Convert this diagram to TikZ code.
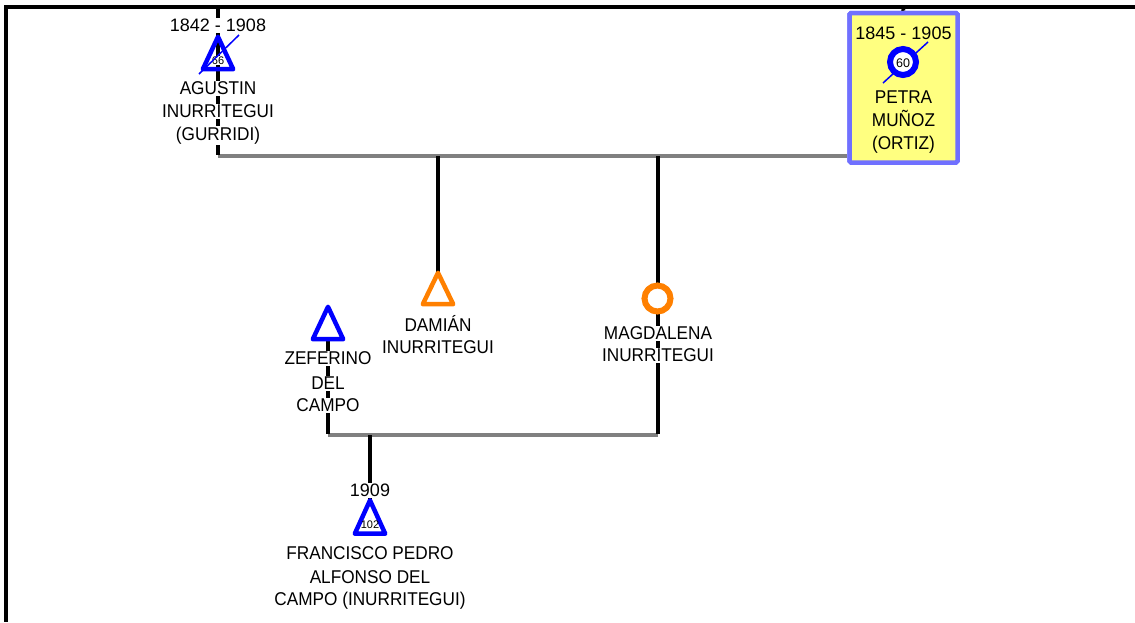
\documentclass[tikz,border=0pt]{standalone}
\usepackage{fontspec}
\setmainfont{Liberation Sans}
\newfontfamily\namefont[FakeStretch=0.93]{Liberation Sans}
\definecolor{tblue}{RGB}{0,0,255}
\definecolor{bxblue}{RGB}{112,112,255}
\definecolor{bxyel}{RGB}{255,255,128}
\definecolor{orng}{RGB}{255,128,0}
\definecolor{lgray}{RGB}{128,128,128}
\begin{document}
\begin{tikzpicture}[x=1pt,y=-1pt,
 txt/.style={fill=white,inner xsep=1pt,inner ysep=1pt,font=\namefont\fontsize{18.5}{20}\selectfont,anchor=base},
 txtb/.style={txt,fill=none},
 yr/.style={txt,font=\fontsize{18}{20}\selectfont},
 yrb/.style={yr,fill=none},
 num/.style={fill=white,inner sep=0.3pt,font=\fontsize{11}{12}\selectfont},
 numb/.style={num,fill=none},
 tribox/.style={minimum width=30pt,minimum height=32pt,inner sep=0pt},
 tri/.style={line width=4.5pt,line join=round},
 circ/.style={circle,minimum size=26pt,inner sep=0pt,line width=6pt,fill=white},
 kin/.style={line width=4pt,black},
 mar/.style={line width=4pt,lgray},
 diag/.style={line width=1.5pt,tblue},
]
\useasboundingbox (0,0) rectangle (1135,622);
% frame
\coordinate (frTR) at (1135,7);
\coordinate (frTL) at (6,7);
\coordinate (frBL) at (6,622);
\draw[line width=4pt] (frTR) -- (frTL) -- (frBL);

% anchors
\coordinate (agTop) at (218,9);
\coordinate (peTop) at (903,9);
\coordinate (m1L) at (218,156);
\coordinate (m2L) at (328,435);
\coordinate (m2R) at (658,435);
\coordinate (m2C) at (370,435);

% Petra box (nodes first for names)
\node[draw=bxblue, fill=bxyel, line width=4.5pt, rounded corners=1.5pt, minimum width=108pt, minimum height=149.5pt, inner sep=0pt] (peBox) at (903.5,87.75) {};
% people shapes (boxes)
\node[tribox] (agT) at (218,53) {};
\node[tribox,minimum height=31pt] (damT) at (438,288.5) {};
\node[tribox] (zefT) at (328,323) {};
\node[tribox,minimum height=33pt] (frT) at (370,517) {};

% marriage lines
\draw[mar] (m1L) -- (peBox.west |- m1L);
\draw[mar] (m2L) -- (m2R);
% kinship lines
\draw[kin] (agTop) -- ([yshift=1pt]m1L);
\draw[kin] (peTop) -- (peBox.north);
\draw[kin] (m1L -| damT) -- (damT.north);
\draw[kin] (m1L -| m2R) -- ([yshift=1pt]m2R);
\draw[kin] (zefT.south) -- ([yshift=1pt]m2L);
\draw[kin] (m2C) -- (frT.north);

% Petra box redraw over line
\node[draw=bxblue, fill=bxyel, line width=4.5pt, rounded corners=1.5pt, minimum width=108pt, minimum height=149.5pt, inner sep=0pt] at (peBox) {};

% Agustin
\draw[tri,tblue] (agT.north) -- (agT.south east) -- (agT.south west) -- cycle;
\node[num] (agN) at (218,60.5) {66};
\draw[diag] (199,74) -- (239,35);
\node[yr] (agY) at (218,31.5) {1842 - 1908};
\node[txt] (ag1) at (218,94.5) {AGUSTIN};
\node[txt] (ag2) at (218,117.5) {INURRITEGUI};
\node[txt] (ag3) at (218,140.5) {(GURRIDI)};

% Petra
\draw[diag] (883,83) -- (928,42);
\node[circ,draw=tblue] (peC) at (903,62) {};
\node[numb,font=\fontsize{12.5}{13}\selectfont] (peN) at (903,63) {60};
\node[yrb] (peY) at (903.5,39.5) {1845 - 1905};
\node[txtb] (pe1) at (903.5,103.3) {PETRA};
\node[txtb] (pe2) at (903.5,126) {MUÑOZ};
\node[txtb] (pe3) at (903.5,149) {(ORTIZ)};

% Damian
\draw[tri,orng] (damT.north) -- (damT.south east) -- (damT.south west) -- cycle;
\node[txt] (da1) at (438,331.5) {DAMIÁN};
\node[txt] (da2) at (438,353.3) {INURRITEGUI};

% Magdalena
\node[circ,draw=orng] (magC) at (657.5,298.5) {};
\node[txt] (ma1) at (658,339.5) {MAGDALENA};
\node[txt] (ma2) at (658,361.7) {INURRITEGUI};

% Zeferino
\draw[tri,tblue] (zefT.north) -- (zefT.south east) -- (zefT.south west) -- cycle;
\node[txt] (ze1) at (328,364.5) {ZEFERINO};
\node[txt] (ze2) at (328,389.8) {DEL};
\node[txt] (ze3) at (328,411.5) {CAMPO};

% Francisco
\draw[tri,tblue] (frT.north) -- (frT.south east) -- (frT.south west) -- cycle;
\node[numb] (frN) at (370,525) {102};
\node[yr] (frY) at (370,496.5) {1909};
\node[txt] (fr1) at (370,559.5) {FRANCISCO PEDRO};
\node[txt] (fr2) at (370,583.2) {ALFONSO DEL};
\node[txt] (fr3) at (370,605.5) {CAMPO (INURRITEGUI)};
\end{tikzpicture}
\end{document}
